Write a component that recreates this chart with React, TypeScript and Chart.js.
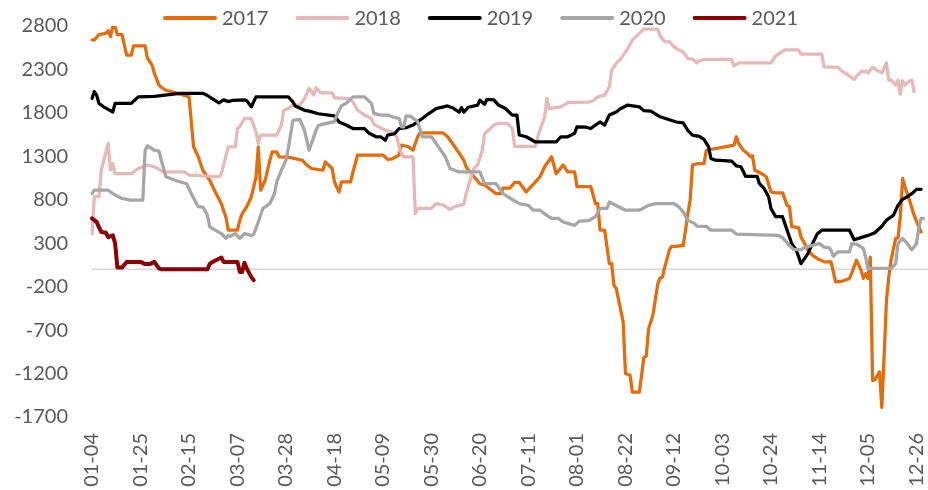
import React, { useEffect, useRef } from "react";
import { Chart, registerables } from "chart.js";

Chart.register(...registerables);

// Categories: daily dates 01-04 .. 12-31 (calendar of a leap year)
const START_DATE = Date.UTC(2020, 0, 4);
const DAY_COUNT = 363;
const dayLabels: string[] = Array.from({ length: DAY_COUNT }, (_, i) => {
  const d = new Date(START_DATE + i * 86400000);
  return String(d.getUTCMonth() + 1).padStart(2, "0") + "-" + String(d.getUTCDate()).padStart(2, "0");
});
const LABEL_EVERY = 21;
const yTickValues = [-1700, -1200, -700, -200, 300, 800, 1300, 1800, 2300, 2800];

const seriesNames = ["2017", "2018", "2019", "2020", "2021"];

// [day index (0 = 01-04), value]
const s2017: [number, number][] = [
  [0, 2640], [1, 2640], [3, 2700], [6, 2715], [7, 2745], [8, 2680], [9, 2795], [10, 2790], [11, 2700], [13, 2700],
  [15, 2465], [17, 2465], [18, 2570], [23, 2570], [24, 2430], [26, 2350], [27, 2255], [29, 2120], [30, 2095], [32, 2060],
  [37, 2025], [42, 1985], [44, 1410], [46, 1295], [48, 1140], [51, 1025], [53, 910], [56, 755], [58, 600], [59, 450],
  [63, 450], [64, 565], [65, 640], [67, 720], [69, 835], [71, 1060], [72, 1410], [73, 910], [75, 1025], [77, 1255],
  [78, 1350], [80, 1350], [81, 1295], [85, 1290], [91, 1255], [93, 1200], [95, 1160], [100, 1140], [101, 1235], [104, 1160],
  [105, 1005], [107, 890], [108, 1005], [112, 1005], [113, 1120], [115, 1315], [126, 1315], [128, 1265], [130, 1270], [133, 1315],
  [134, 1430], [137, 1410], [139, 1370], [141, 1525], [142, 1570], [152, 1570], [154, 1525], [156, 1450], [159, 1335], [161, 1255],
  [162, 1180], [163, 1140], [165, 1080], [168, 985], [170, 970], [173, 910], [175, 870], [177, 870], [178, 935], [181, 935],
  [183, 1000], [185, 1000], [188, 890], [192, 1005], [194, 1065], [196, 1180], [199, 1295], [201, 1100], [204, 1200], [206, 1120],
  [209, 1120], [210, 950], [216, 950], [218, 755], [219, 755], [220, 450], [222, 450], [224, 65], [225, 65], [226, -185],
  [227, -220], [230, -605], [231, -1200], [233, -1220], [234, -1415], [237, -1415], [239, -1010], [240, -1000], [241, -685], [242, -605],
  [243, -510], [245, -165], [246, -100], [247, -90], [248, 25], [250, 220], [251, 265], [253, 265], [256, 275], [257, 450],
  [258, 640], [259, 795], [260, 1200], [262, 1215], [265, 1215], [266, 1370], [278, 1430], [279, 1525], [280, 1450], [282, 1370],
  [284, 1330], [285, 1300], [286, 1305], [287, 1140], [290, 1100], [292, 1065], [294, 890], [296, 880], [299, 880], [301, 735],
  [302, 720], [303, 490], [306, 480], [307, 370], [309, 275], [310, 220], [312, 160], [314, 125], [317, 85], [320, 85],
  [322, -145], [325, -135], [328, -105], [329, -40], [331, 105], [333, -10], [334, -105], [335, -50], [336, -105], [337, 140],
  [338, -1280], [339, -1270], [341, -1180], [342, -1590], [343, -1000], [344, -360], [345, -90], [346, 105], [348, 355], [349, 360],
  [350, 605], [351, 1045], [352, 950], [354, 795], [356, 620], [358, 490], [359, 430],
];

const s2018: [number, number][] = [
  [0, 410], [1, 835], [3, 835], [4, 1140], [7, 1450], [8, 1140], [9, 1215], [10, 1100], [17, 1100], [20, 1160],
  [24, 1200], [27, 1180], [31, 1120], [40, 1120], [42, 1085], [55, 1065], [56, 1100], [59, 1410], [62, 1410], [63, 1620],
  [64, 1640], [66, 1735], [69, 1735], [71, 1580], [72, 1450], [73, 1545], [80, 1545], [82, 1660], [83, 1830], [85, 1850],
  [87, 1890], [90, 1890], [92, 1965], [93, 2025], [94, 2085], [96, 2005], [97, 2090], [99, 2030], [104, 2030], [105, 1975],
  [111, 1965], [113, 1925], [115, 1830], [118, 1775], [121, 1735], [122, 1670], [124, 1640], [127, 1600], [130, 1580], [132, 1525],
  [133, 1410], [134, 1335], [135, 1295], [139, 1295], [140, 640], [141, 700], [147, 700], [149, 755], [152, 740], [155, 690],
  [157, 720], [161, 750], [162, 870], [165, 1140], [166, 1180], [167, 1200], [169, 1370], [170, 1560], [174, 1660], [176, 1680],
  [180, 1680], [182, 1620], [183, 1415], [192, 1415], [193, 1525], [196, 1755], [197, 1965], [198, 1850], [203, 1870], [205, 1900],
  [206, 1920], [215, 1925], [217, 1940], [219, 1985], [222, 2005], [224, 2100], [225, 2290], [227, 2370], [229, 2425], [232, 2540],
  [234, 2640], [237, 2715], [239, 2765], [245, 2765], [246, 2685], [248, 2620], [250, 2620], [252, 2560], [254, 2525], [256, 2500],
  [257, 2465], [258, 2425], [260, 2420], [262, 2375], [263, 2400], [265, 2415], [277, 2415], [278, 2340], [280, 2375], [294, 2375],
  [296, 2455], [300, 2525], [306, 2525], [307, 2475], [316, 2475], [317, 2330], [323, 2325], [325, 2275], [328, 2225], [330, 2185],
  [331, 2220], [333, 2275], [335, 2280], [336, 2260], [338, 2325], [340, 2290], [342, 2260], [344, 2375], [345, 2175], [346, 2180],
  [348, 2120], [349, 2175], [350, 2015], [351, 2170], [352, 2120], [354, 2170], [355, 2175], [356, 2045],
];

const s2019: [number, number][] = [
  [0, 1965], [1, 2045], [2, 2005], [3, 1910], [5, 1870], [7, 1840], [9, 1810], [10, 1910], [17, 1910], [20, 1985],
  [27, 1990], [38, 2025], [48, 2025], [50, 2000], [52, 1965], [55, 1915], [57, 1950], [59, 1930], [61, 1945], [66, 1950],
  [67, 1940], [69, 1870], [71, 1985], [85, 1985], [87, 1925], [88, 1880], [92, 1830], [94, 1820], [98, 1790], [105, 1765],
  [107, 1695], [110, 1660], [113, 1620], [118, 1620], [120, 1565], [123, 1525], [125, 1525], [127, 1485], [128, 1545], [131, 1560],
  [133, 1620], [136, 1630], [139, 1660], [143, 1735], [146, 1795], [149, 1850], [154, 1880], [156, 1860], [159, 1810], [160, 1860],
  [161, 1810], [163, 1865], [167, 1890], [168, 1945], [170, 1900], [171, 1955], [174, 1950], [176, 1890], [179, 1850], [182, 1775],
  [184, 1775], [185, 1545], [188, 1525], [192, 1465], [201, 1465], [203, 1525], [206, 1525], [209, 1565], [210, 1640], [214, 1635],
  [216, 1620], [218, 1660], [220, 1695], [222, 1660], [224, 1775], [227, 1810], [229, 1850], [232, 1890], [237, 1870], [239, 1825],
  [242, 1820], [246, 1755], [249, 1730], [253, 1695], [256, 1685], [258, 1600], [260, 1545], [263, 1530], [265, 1495], [267, 1410],
  [268, 1275], [270, 1255], [277, 1245], [279, 1190], [281, 1180], [283, 1070], [288, 1070], [289, 985], [291, 930], [293, 835],
  [294, 700], [296, 605], [299, 605], [301, 450], [303, 295], [305, 220], [307, 65], [310, 180], [312, 295], [314, 405],
  [316, 450], [328, 450], [330, 340], [333, 365], [336, 390], [339, 420], [342, 495], [344, 565], [347, 620], [349, 735],
  [351, 805], [353, 835], [355, 870], [357, 920], [359, 920],
];

const s2020: [number, number][] = [
  [0, 870], [1, 910], [7, 910], [10, 855], [13, 815], [17, 795], [22, 795], [23, 1370], [24, 1420], [27, 1370],
  [29, 1360], [30, 1255], [32, 1065], [36, 1025], [41, 985], [43, 870], [46, 720], [48, 715], [50, 620], [51, 490],
  [52, 470], [56, 410], [58, 355], [59, 390], [60, 380], [62, 410], [64, 355], [66, 410], [69, 390], [70, 400],
  [72, 545], [74, 700], [77, 755], [79, 870], [80, 1005], [82, 1140], [84, 1255], [85, 1390], [87, 1715], [90, 1725],
  [92, 1600], [94, 1370], [97, 1600], [98, 1655], [100, 1670], [105, 1700], [106, 1775], [108, 1880], [110, 1910], [113, 1985],
  [118, 1985], [121, 1910], [122, 1795], [125, 1775], [128, 1775], [130, 1755], [133, 1735], [134, 1640], [135, 1640], [136, 1765],
  [138, 1760], [141, 1700], [143, 1525], [147, 1525], [150, 1410], [153, 1295], [155, 1160], [159, 1120], [168, 1120], [170, 985],
  [175, 985], [178, 870], [180, 835], [185, 755], [189, 735], [191, 680], [194, 680], [196, 640], [197, 620], [199, 585],
  [202, 585], [204, 545], [209, 505], [211, 555], [215, 560], [218, 605], [220, 700], [223, 700], [224, 775], [227, 735],
  [231, 680], [237, 680], [241, 735], [244, 755], [252, 755], [254, 720], [256, 660], [258, 565], [261, 525], [262, 495],
  [266, 495], [268, 450], [277, 450], [279, 405], [297, 390], [299, 365], [302, 275], [304, 225], [307, 225], [309, 255],
  [312, 275], [315, 295], [317, 255], [319, 250], [320, 220], [321, 150], [323, 200], [328, 200], [329, 295], [331, 290],
  [334, 240], [335, 140], [336, 10], [346, 10], [348, 65], [349, 295], [351, 355], [353, 295], [355, 225], [357, 295],
  [358, 470], [359, 585], [360, 585],
];

const s2021: [number, number][] = [
  [0, 585], [2, 545], [3, 485], [4, 430], [6, 420], [7, 370], [9, 390], [10, 300], [11, 20], [13, 20],
  [15, 85], [21, 85], [23, 60], [25, 60], [27, 85], [29, 10], [30, 0], [50, 0], [51, 65], [53, 95],
  [56, 135], [57, 85], [63, 85], [64, -30], [65, -30], [66, 75], [67, 10], [69, -90], [70, -125],
];

const seriesValues = [s2017, s2018, s2019, s2020, s2021];
const seriesColors = ["#E46C0A", "#E6B9B8", "#000000", "#A6A6A6", "#8B0000"];
const seriesWidths = [3.25, 3.25, 3.25, 3.25, 4];

const FONT = "Lato, 'Open Sans', 'Liberation Sans', sans-serif";
const TEXT_COLOR = "#595959";

const zeroLinePlugin = {
  id: "zeroLine",
  beforeDatasetsDraw(chart: any) {
    const { ctx, chartArea } = chart;
    const y = chart.scales.y.getPixelForValue(0);
    ctx.save();
    ctx.strokeStyle = "#D9D9D9";
    ctx.lineWidth = 1.5;
    ctx.beginPath();
    ctx.moveTo(chartArea.left, y);
    ctx.lineTo(chartArea.right, y);
    ctx.stroke();
    ctx.restore();
  },
};

const legendPlugin = {
  id: "lineLegend",
  afterDraw(chart: any) {
    const ctx = chart.ctx;
    ctx.save();
    ctx.font = `20px ${FONT}`;
    ctx.textBaseline = "middle";
    ctx.textAlign = "left";
    let x = 163;
    const y = 18;
    chart.data.datasets.forEach((ds: any) => {
      ctx.strokeStyle = ds.borderColor;
      ctx.lineWidth = 4;
      ctx.lineCap = "round";
      ctx.beginPath();
      ctx.moveTo(x + 2, y);
      ctx.lineTo(x + 52, y);
      ctx.stroke();
      ctx.fillStyle = TEXT_COLOR;
      ctx.fillText(ds.label, x + 59, y + 1);
      x += 59 + ctx.measureText(ds.label).width + 27;
    });
    ctx.restore();
  },
};

export default function App() {
  const canvasRef = useRef<HTMLCanvasElement | null>(null);

  useEffect(() => {
    if (!canvasRef.current) return;
    const datasets = seriesNames.map((name, i) => ({
      label: name,
      data: seriesValues[i].map(([d, v]) => ({ x: dayLabels[d], y: v })),
      borderColor: seriesColors[i],
      backgroundColor: seriesColors[i],
      borderWidth: seriesWidths[i],
      pointRadius: 0,
      tension: 0,
      fill: false,
      borderJoinStyle: "round" as const,
      borderCapStyle: "round" as const,
      order: -i,
    }));

    const chart = new Chart(canvasRef.current, {
      type: "line",
      data: { labels: dayLabels, datasets },
      options: {
        animation: false,
        responsive: false,
        layout: { padding: { top: 26, left: 0, right: 0, bottom: 0 } },
        plugins: {
          legend: { display: false },
          tooltip: { enabled: false },
        },
        scales: {
          x: {
            type: "category",
            offset: false,
            grid: { display: false, drawTicks: false },
            border: { display: false },
            afterBuildTicks: (scale: any) => {
              const t: any[] = [];
              for (let i = 0; i < dayLabels.length; i += LABEL_EVERY) t.push({ value: i });
              scale.ticks = t;
            },
            afterFit: (scale: any) => {
              scale.height = 73;
              scale.paddingLeft = 0;
              scale.paddingRight = 0;
            },
            ticks: {
              autoSkip: false,
              minRotation: 90,
              maxRotation: 90,
              padding: 16,
              color: TEXT_COLOR,
              font: { family: FONT, size: 20 },
            },
          },
          y: {
            type: "linear",
            min: -1700,
            max: 2800,
            grid: { display: false, drawTicks: false },
            border: { display: false },
            afterBuildTicks: (scale: any) => {
              scale.ticks = yTickValues.map((v) => ({ value: v }));
            },
            afterFit: (scale: any) => {
              scale.width = 92;
              scale.paddingTop = 0;
              scale.paddingBottom = 0;
            },
            ticks: {
              padding: 24,
              color: TEXT_COLOR,
              font: { family: FONT, size: 20 },
              callback: (value: any) => String(value),
            },
          },
        },
      },
      plugins: [zeroLinePlugin, legendPlugin],
    });
    return () => chart.destroy();
  }, []);

  return (
    <div style={{ position: "absolute", left: 0, top: 0, width: 928, height: 490, background: "#fff" }}>
      <canvas ref={canvasRef} width={928} height={490} style={{ display: "block" }} />
    </div>
  );
}
